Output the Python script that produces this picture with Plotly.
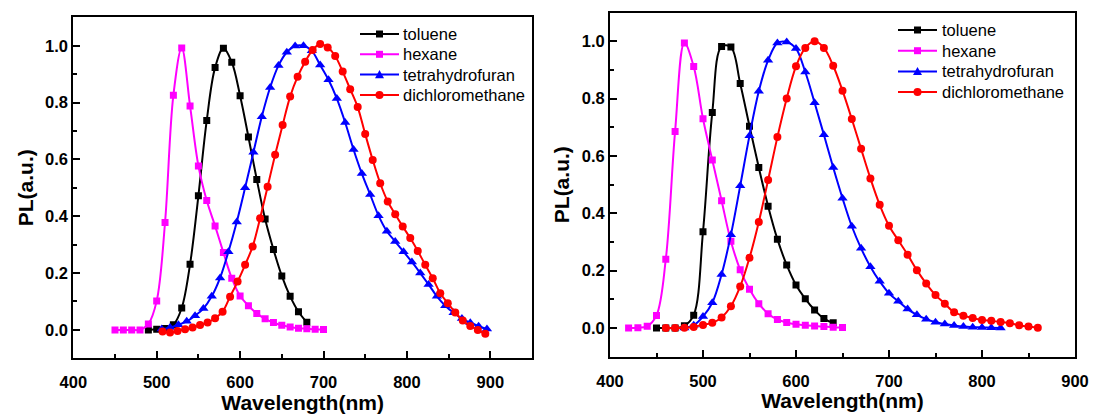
import plotly.graph_objects as go

# ---------------- Left panel data ----------------
L_tol_x = [490, 500, 510, 520, 530, 540, 550, 560, 570, 580, 590, 600, 610, 620, 630, 640, 650, 660, 670, 680]
L_tol_y = [0.0, 0.002, 0.005, 0.018, 0.077, 0.231, 0.472, 0.737, 0.923, 0.991, 0.942, 0.824, 0.679, 0.529,
           0.39, 0.283, 0.19, 0.118, 0.064, 0.027]

L_hex_x = [450, 460, 470, 480, 490, 500, 510, 520, 530, 540, 550, 560, 570, 580, 590, 600, 610, 620, 630,
           640, 650, 660, 670, 680, 690, 700]
L_hex_y = [0.0, 0.0, 0.0, 0.0, 0.021, 0.102, 0.378, 0.826, 0.992, 0.788, 0.577, 0.455, 0.366, 0.272, 0.182,
           0.119, 0.085, 0.058, 0.039, 0.026, 0.016, 0.01, 0.006, 0.004, 0.002, 0.001]

L_thf_x = [506, 516, 526, 536, 546, 556, 566, 576, 586, 596, 606, 616, 626, 636, 646, 656, 666, 676, 686,
           696, 706, 716, 726, 736, 746, 756, 766, 776, 786, 796, 806, 816, 826, 836, 846, 856, 866, 876,
           886, 896]
L_thf_y = [0.003, 0.008, 0.018, 0.03, 0.05, 0.075, 0.118, 0.183, 0.275, 0.38, 0.5, 0.625, 0.75, 0.853, 0.93,
           0.977, 0.999, 1.0, 0.982, 0.932, 0.88, 0.814, 0.73, 0.635, 0.55, 0.476, 0.402, 0.347, 0.311,
           0.275, 0.239, 0.2, 0.16, 0.118, 0.085, 0.06, 0.04, 0.025, 0.013, 0.003]

L_dcm_x = [507, 516, 525, 534, 543, 552, 561, 570, 579, 588, 597, 606, 615, 624, 633, 642, 651, 660, 669,
           678, 687, 696, 705, 714, 723, 732, 741, 750, 759, 768, 777, 786, 795, 804, 813, 822, 831, 840,
           849, 858, 867, 876, 885, 894]
L_dcm_y = [-0.006, -0.009, -0.004, 0.002, 0.008, 0.017, 0.026, 0.041, 0.064, 0.117, 0.17, 0.229, 0.293,
           0.393, 0.504, 0.616, 0.721, 0.821, 0.891, 0.944, 0.985, 1.006, 0.994, 0.964, 0.909, 0.847,
           0.784, 0.689, 0.598, 0.516, 0.452, 0.407, 0.364, 0.323, 0.278, 0.229, 0.182, 0.129, 0.094,
           0.061, 0.033, 0.014, 0.0, -0.014]

# ---------------- Right panel data ----------------
R_tol_x = [450, 460, 470, 480, 490, 500, 510, 520, 530, 540, 550, 560, 570, 580, 590, 600, 610, 620, 630, 640]
R_tol_y = [0.0, 0.0, 0.0, 0.008, 0.045, 0.336, 0.752, 0.982, 0.98, 0.853, 0.704, 0.56, 0.425, 0.31, 0.22,
           0.15, 0.102, 0.063, 0.033, 0.018]

R_hex_x = [420, 430, 440, 450, 460, 470, 480, 490, 500, 510, 520, 530, 540, 550, 560, 570, 580, 590, 600,
           610, 620, 630, 640, 650]
R_hex_y = [0.0, 0.001, 0.006, 0.044, 0.24, 0.686, 0.994, 0.912, 0.73, 0.586, 0.444, 0.303, 0.203, 0.135,
           0.085, 0.05, 0.03, 0.019, 0.013, 0.01, 0.007, 0.005, 0.003, 0.002]

R_thf_x = [480, 490, 500, 510, 520, 530, 540, 550, 560, 570, 580, 590, 600, 610, 620, 630, 640, 650, 660,
           670, 680, 690, 700, 710, 720, 730, 740, 750, 760, 770, 780, 790, 800, 810, 820]
R_thf_y = [0.0, 0.01, 0.04, 0.088, 0.187, 0.325, 0.496, 0.671, 0.826, 0.934, 0.994, 0.998, 0.975, 0.893,
           0.786, 0.674, 0.56, 0.453, 0.355, 0.278, 0.214, 0.163, 0.121, 0.093, 0.066, 0.046, 0.031, 0.02,
           0.014, 0.009, 0.005, 0.003, 0.002, 0.001, 0.0]

R_dcm_x = [460, 470, 480, 490, 500, 510, 520, 530, 540, 550, 560, 570, 580, 590, 600, 610, 620, 630, 640,
           650, 660, 670, 680, 690, 700, 710, 720, 730, 740, 750, 760, 770, 780, 790, 800, 810, 820, 830,
           840, 850, 860]
R_dcm_y = [0.0, 0.0, 0.001, 0.004, 0.011, 0.018, 0.037, 0.076, 0.145, 0.245, 0.37, 0.516, 0.666, 0.801,
           0.913, 0.977, 1.0, 0.977, 0.915, 0.828, 0.729, 0.625, 0.522, 0.43, 0.357, 0.306, 0.256, 0.202,
           0.155, 0.115, 0.085, 0.055, 0.043, 0.035, 0.028, 0.025, 0.021, 0.017, 0.01, 0.005, 0.001]

names = ["toluene", "hexane", "tetrahydrofuran", "dichloromethane"]
colors = ["#000000", "#FF00FF", "#0000FF", "#FF0000"]
symbols = ["square", "square", "triangle-up", "circle"]
msizes = [7, 7, 9, 8]

left = [(L_tol_x, L_tol_y), (L_hex_x, L_hex_y), (L_thf_x, L_thf_y), (L_dcm_x, L_dcm_y)]
right = [(R_tol_x, R_tol_y), (R_hex_x, R_hex_y), (R_thf_x, R_thf_y), (R_dcm_x, R_dcm_y)]

W, H = 1094, 418

fig = go.Figure()
for i, (xs, ys) in enumerate(left):
    fig.add_trace(go.Scatter(x=xs, y=ys, name=names[i], mode="lines+markers", showlegend=False,
                             line=dict(color=colors[i], width=2, shape="spline", smoothing=1.0),
                             marker=dict(symbol=symbols[i], size=msizes[i], color=colors[i]),
                             xaxis="x", yaxis="y"))
for i, (xs, ys) in enumerate(right):
    fig.add_trace(go.Scatter(x=xs, y=ys, name=names[i], mode="lines+markers", showlegend=False,
                             line=dict(color=colors[i], width=2, shape="spline", smoothing=1.0),
                             marker=dict(symbol=symbols[i], size=msizes[i], color=colors[i]),
                             xaxis="x2", yaxis="y2"))

FONT = "Liberation Sans, Arial, sans-serif"
tickfont = dict(family=FONT, size=16.5, color="black", weight="bold")
titlefont = dict(family=FONT, size=21, color="black", weight="bold")


def xax(domain, rng, anchor):
    return dict(domain=domain, range=rng, anchor=anchor, showline=True, linecolor="black", linewidth=2,
                mirror=True, showgrid=False, zeroline=False, ticks="inside", ticklen=7, tickwidth=2,
                tickcolor="black", dtick=100, tick0=400, tickfont=tickfont, ticklabelstandoff=8,
                minor=dict(ticks="inside", ticklen=4, tickwidth=1.5, tickcolor="black", dtick=50, showgrid=False),
                title=dict(text="Wavelength(nm)", font=titlefont, standoff=2), automargin=False)


def yax(domain, anchor):
    return dict(domain=domain, range=[-0.1, 1.1], anchor=anchor, showline=True, linecolor="black", linewidth=2,
                mirror=True, showgrid=False, zeroline=False, ticks="inside", ticklen=7, tickwidth=2,
                tickcolor="black", dtick=0.2, tick0=0, tickformat=".1f", tickfont=tickfont,
                minor=dict(ticks="inside", ticklen=4, tickwidth=1.5, tickcolor="black", dtick=0.1, showgrid=False),
                title=dict(text="PL(a.u.)", font=titlefont, standoff=6), automargin=False)


# ---- legend samples (layout shapes + text) ----
legfont = dict(family=FONT, size=16.5, color="black")
shapes = []
annotations = []


def px(x):
    return x / W


def py(y):
    return 1 - y / H


def add_legend(x0, x1, tx, rows):
    for i, ry in enumerate(rows):
        c = colors[i]
        shapes.append(dict(type="line", xref="paper", yref="paper", x0=px(x0), x1=px(x1), y0=py(ry), y1=py(ry),
                           line=dict(color=c, width=2)))
        cx = (x0 + x1) / 2
        if symbols[i] == "square":
            s = 3.5
            shapes.append(dict(type="rect", xref="paper", yref="paper", x0=px(cx - s), x1=px(cx + s),
                               y0=py(ry + s), y1=py(ry - s), fillcolor=c, line=dict(width=0)))
        elif symbols[i] == "circle":
            s = 4
            shapes.append(dict(type="circle", xref="paper", yref="paper", x0=px(cx - s), x1=px(cx + s),
                               y0=py(ry + s), y1=py(ry - s), fillcolor=c, line=dict(width=0)))
        else:
            s = 4.5
            path = "M {} {} L {} {} L {} {} Z".format(px(cx - s), py(ry + s * 0.8), px(cx + s), py(ry + s * 0.8),
                                                       px(cx), py(ry - s))
            shapes.append(dict(type="path", xref="paper", yref="paper", path=path, fillcolor=c, line=dict(width=0)))
        annotations.append(dict(xref="paper", yref="paper", x=px(tx), y=py(ry), xanchor="left", yanchor="middle",
                                text=names[i], showarrow=False, font=legfont))


add_legend(360, 399, 401, [34, 54.3, 74.6, 95])
add_legend(898, 937, 940, [30, 50.7, 71.4, 92])

fig.update_layout(
    width=W, height=H, margin=dict(l=0, r=0, t=0, b=0),
    paper_bgcolor="white", plot_bgcolor="white",
    xaxis=xax([73.3 / W, 532 / W], [400, 950], "y"),
    yaxis=yax([(H - 358.3) / H, (H - 17.3) / H], "x"),
    xaxis2=xax([610 / W, 1075 / W], [400, 900], "y2"),
    yaxis2=yax([(H - 356.7) / H, (H - 12.7) / H], "x2"),
    shapes=shapes, annotations=annotations, showlegend=False,
)

fig.write_html("out.html", config={"displayModeBar": False},
               post_script="document.body.style.margin='0';document.body.style.overflow='hidden';")
